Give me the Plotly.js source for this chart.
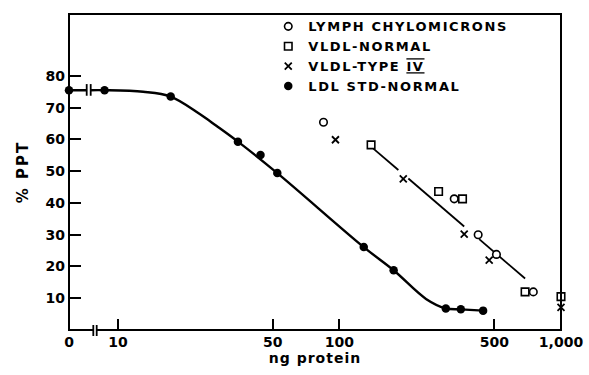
<!DOCTYPE html>
<html><head><meta charset="utf-8">
<script src="https://cdn.plot.ly/plotly-3.0.1.min.js"></script>
<style>html,body{margin:0;padding:0;background:#fff}#chart{width:589px;height:375px}</style>
</head><body><div id="chart"></div>
<script>
// ---- LDL STD-NORMAL (filled circles) ----
const ldlZeroX = [0];
const ldlZeroY = [75.5];
const ldlX = [8.7, 17.3, 34.8, 44.0, 52.4, 128.7, 175.6, 302, 353, 445];
const ldlY = [75.5, 73.5, 59.3, 55.1, 49.4, 26.1, 18.8, 6.8, 6.5, 6.1];
// hand-drawn LDL curve
const ldlCurveX = [7.5, 8.7, 13.0, 17.3, 23.4, 27.8, 34.8, 52.4, 128.7, 175.6, 245.8, 302, 353, 445];
const ldlCurveY = [75.5, 75.5, 75.0, 73.5, 68.0, 64.3, 59.3, 49.4, 26.1, 18.8, 9.8, 6.8, 6.5, 6.1];
// ---- LYMPH CHYLOMICRONS (open circles) ----
const chyloX = [84.7, 329.6, 422.7, 511.2, 749.9];
const chyloY = [65.4, 41.3, 30.0, 23.8, 12.0];
// ---- VLDL-NORMAL (open squares) ----
const vldlNormX = [138.9, 280.2, 359.3, 688.4, 1000];
const vldlNormY = [58.3, 43.6, 41.3, 12.0, 10.5];
// ---- VLDL-TYPE IV (crosses) ----
const vldlIVX = [95.9, 194.1, 365.6, 474, 1000];
const vldlIVY = [59.9, 47.6, 30.2, 22.0, 7.1];
// VLDL straight line, read at its drawn ends (null = gap in the drawn line)
const vldlLineX = [142.2, 184.4, null, 204.6, 365.6, null, 427.2, 688.4];
const vldlLineY = [57.1, 50.4, null, 47.7, 32.6, null, 28.6, 16.2];
// ---- ticks and labels ----
const xTickVals = [10, 50, 100, 500, 1000];
const xTickText = ['10', '50', '100', '500', '1,000'];
const yTickVals = [10, 20, 30, 40, 50, 60, 70, 80];
const zeroTickText = ['0'];
const seriesNames = ['LYMPH CHYLOMICRONS', 'VLDL-NORMAL', 'VLDL-TYPE <span style="text-decoration:underline overline">IV</span>', 'LDL STD-NORMAL'];

const FONT = '"DejaVu Sans", sans-serif';
const spaced = (t, ls) => '<span style="letter-spacing:' + ls + 'px">' + t + '</span>';
const W = 492, H = 317; // plot area in px
const px = v => v / W;   // paper helpers for decoration shapes
const py = v => v / H;

const openMarker = (sym, size) => ({symbol: sym, size: size, color: 'white', line: {color: 'black', width: 1.6}});

const traces = [
  {x: ldlCurveX, y: ldlCurveY, mode: 'lines', line: {color: 'black', width: 2.4, shape: 'spline', smoothing: 1}, showlegend: false, hoverinfo: 'skip'},
  {x: [ldlZeroX[0], 1], y: [ldlZeroY[0], ldlZeroY[0]], xaxis: 'x2', mode: 'lines', line: {color: 'black', width: 2.4}, showlegend: false, hoverinfo: 'skip', cliponaxis: false},
  {x: vldlLineX, y: vldlLineY, mode: 'lines', line: {color: 'black', width: 1.8}, showlegend: false, hoverinfo: 'skip'},
  {x: chyloX, y: chyloY, mode: 'markers', name: spaced(seriesNames[0], 1.6), marker: openMarker('circle', 7.5)},
  {x: vldlNormX, y: vldlNormY, mode: 'markers', name: spaced(seriesNames[1], 1.6), marker: openMarker('square', 7.5), cliponaxis: false},
  {x: vldlIVX, y: vldlIVY, mode: 'markers', name: spaced(seriesNames[2], 1.6), marker: {symbol: 'x-thin-open', size: 7, color: 'black', line: {color: 'black', width: 1.8}}, cliponaxis: false},
  {x: ldlX, y: ldlY, mode: 'markers', name: spaced(seriesNames[3], 1.6), marker: {symbol: 'circle', size: 8.5, color: 'black'}},
  {x: ldlZeroX, y: ldlZeroY, xaxis: 'x2', mode: 'markers', showlegend: false, marker: {symbol: 'circle', size: 8.5, color: 'black'}, cliponaxis: false}
];

const tickFont = {family: FONT, size: 14, color: '#000000', weight: 'bold'};
const axisCommon = {showgrid: false, zeroline: false, showline: false, ticks: 'inside', ticklen: 11, tickwidth: 2, tickcolor: 'black', tickfont: tickFont};

const layout = {
  width: 589, height: 375,
  margin: {l: 69, r: 28, t: 13, b: 45},
  paper_bgcolor: 'white', plot_bgcolor: 'rgba(0,0,0,0)',
  font: {family: FONT, color: '#000000'},
  xaxis: Object.assign({}, axisCommon, {
    type: 'log', domain: [0, 1], range: [0.779, 3.0], anchor: 'y',
    tickmode: 'array', tickvals: xTickVals, ticktext: xTickText, ticklabelstandoff: 2,
    title: {text: spaced('ng protein', 1), font: {family: FONT, size: 14, color: '#000000', weight: 'bold'}, standoff: 4}, automargin: false
  }),
  xaxis2: Object.assign({}, axisCommon, {
    domain: [0, px(17.7)], range: [0, 1], anchor: 'y', ticklabelstandoff: 2,
    tickmode: 'array', tickvals: ldlZeroX, ticktext: zeroTickText, ticks: ''
  }),
  yaxis: Object.assign({}, axisCommon, {
    range: [0, 99.5], anchor: 'free', position: 0,
    tickmode: 'array', tickvals: yTickVals, ticklabelstandoff: 4,
    title: {text: spaced('% PPT', 2), font: {family: FONT, size: 15, color: '#000000', weight: 'bold'}, standoff: 12}, automargin: false
  }),
  legend: {x: 0.405, y: 1.005, xanchor: 'left', yanchor: 'top', bgcolor: 'rgba(0,0,0,0)',
           font: {family: FONT, size: 13, color: '#000000', weight: 'bold'}, itemwidth: 30, tracegroupgap: 0},
  shapes: [
    // plot frame
    {type: 'rect', xref: 'paper', yref: 'paper', x0: 0, x1: 1, y0: 0, y1: 1, line: {color: 'black', width: 2}},
    // x-axis break
    {type: 'line', xref: 'paper', yref: 'paper', x0: px(24.8), x1: px(27.4), y0: 0, y1: 0, line: {color: 'white', width: 4}},
    {type: 'line', xref: 'paper', yref: 'paper', x0: px(24.3), x1: px(24.3), y0: py(-6), y1: py(5), line: {color: 'black', width: 1.8}},
    {type: 'line', xref: 'paper', yref: 'paper', x0: px(27.7), x1: px(27.7), y0: py(-6), y1: py(5), line: {color: 'black', width: 1.8}},
    // curve break
    {type: 'line', xref: 'paper', yref: 'paper', x0: px(17.7), x1: px(17.7), y0: py(235), y1: py(246.7), line: {color: 'black', width: 1.8}},
    {type: 'line', xref: 'paper', yref: 'paper', x0: px(21.7), x1: px(21.7), y0: py(235), y1: py(246.7), line: {color: 'black', width: 1.8}}
  ]
};

Plotly.newPlot('chart', traces, layout, {displayModeBar: false, staticPlot: true});
</script>
</body></html>
